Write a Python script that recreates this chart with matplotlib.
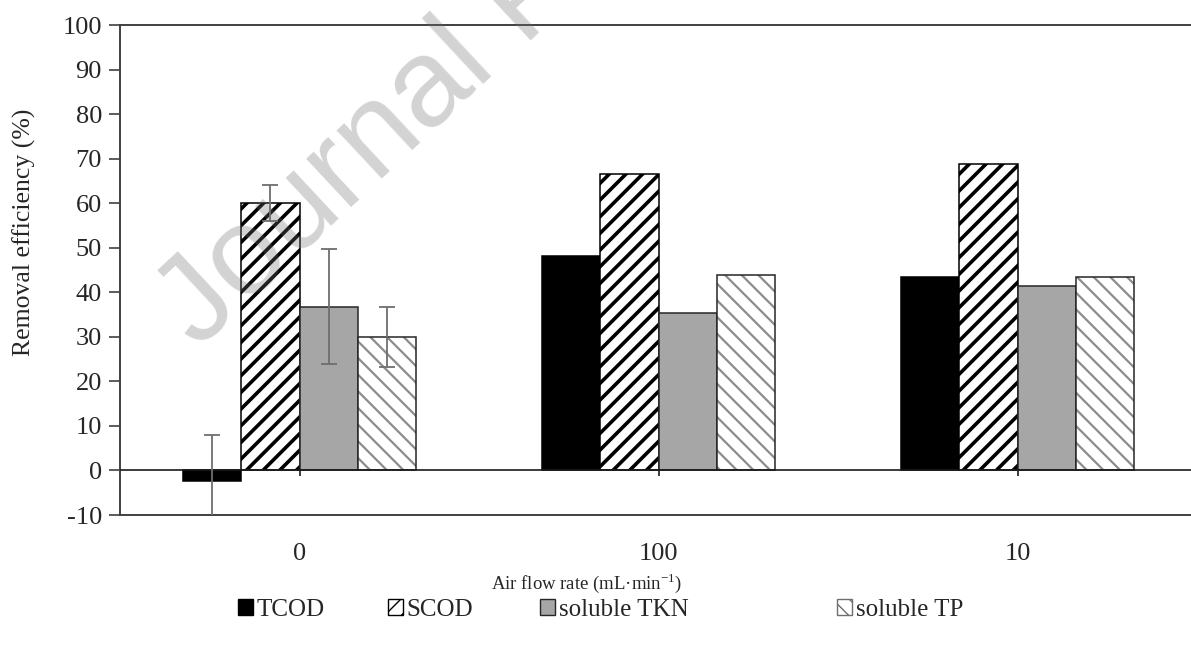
import numpy as np
import matplotlib
matplotlib.use("Agg")
import matplotlib.pyplot as plt
from matplotlib.patches import Patch

# data
flow_rates = ["0", "100", "10"]
series = ["TCOD", "SCOD", "soluble TKN", "soluble TP"]
tcod = [-2.3, 48.1, 43.4]
scod = [60.0, 66.5, 68.7]
tkn = [36.8, 35.4, 41.5]
tp = [30.0, 43.9, 43.4]
tcod_err = [10.3, 0, 0]
scod_err = [4.0, 0, 0]
tkn_err = [13.0, 0, 0]
tp_err = [6.7, 0, 0]
y_ticks = list(range(-10, 101, 10))

plt.rcParams['font.family'] = ['Liberation Serif', 'DejaVu Serif']

W, H = 1191, 645
fig = plt.figure(figsize=(W / 100, H / 100), dpi=100)
ax = fig.add_axes([120 / W, 1 - 515 / H, 1077 / W, 490 / H])

x = np.arange(len(flow_rates))
w = 0.1616
edge = '#262626'
txt = '#262626'
err_kw = dict(ecolor='#6e6e6e', elinewidth=1.3, capsize=6, capthick=1.3)


def bars(vals, errs, pos, **kw):
    hlw = kw.pop('hatch_lw', 1.0)
    with plt.rc_context({'hatch.linewidth': hlw}):
        b = ax.bar(x + pos * w, vals, w, **kw)
    for p in b:
        if hasattr(p, 'set_hatch_linewidth'):
            p.set_hatch_linewidth(hlw)
    if errs is not None:
        mask = np.array(errs) > 0
        ax.errorbar((x + pos * w)[mask], np.array(vals)[mask], yerr=np.array(errs)[mask],
                    fmt='none', zorder=5, **err_kw)
    return b


bars(tcod, tcod_err, -1.5, color='black', edgecolor='black', linewidth=1.1, zorder=3)
bars(scod, scod_err, -0.5, color='white', edgecolor='black', hatch='//', hatch_lw=2.6,
     linewidth=1.1, zorder=3)
bars(tkn, tkn_err, 0.5, color='#a6a6a6', edgecolor=edge, linewidth=1.1, zorder=3)
bars(tp, None, 1.5, color='white', edgecolor='#8c8c8c', hatch='\\\\', hatch_lw=1.6,
     linewidth=0, zorder=3)
bars(tp, tp_err, 1.5, fill=False, edgecolor=edge, linewidth=1.1, zorder=4)

# zero line with small category ticks
ax.axhline(0, color='#1a1a1a', lw=1.2, zorder=4)
ax.vlines(x, -1.2, 0, color='#1a1a1a', lw=1.2, zorder=4)

ax.set_xlim(-0.5, len(flow_rates) - 0.5)
ax.set_ylim(-10, 100)
ax.set_yticks(y_ticks)
ax.set_yticklabels([str(v) for v in y_ticks], fontsize=19, color=txt)
ax.set_xticks(x)
ax.set_xticklabels(flow_rates, fontsize=19, color=txt)
ax.tick_params(axis='x', length=0, pad=20)
ax.tick_params(axis='y', direction='out', length=8, width=1.2, color='#404040', pad=5)
for s in ['left', 'bottom', 'top']:
    ax.spines[s].set_color('#404040')
    ax.spines[s].set_linewidth(1.4)
ax.spines['right'].set_visible(False)

fig.text(24 / W, 1 - 232 / H, 'Removal efficiency (%)', rotation=90, ha='center',
         va='center', fontsize=18.5, color=txt)
fig.text(587 / W, 1 - 583 / H, 'Air flow rate (mL·min$^{\\mathregular{-1}}$)', ha='center',
         va='center', fontsize=13.5, color=txt)

handles = [
    Patch(facecolor='black', edgecolor='black', label='TCOD'),
    Patch(facecolor='white', edgecolor='black', hatch='//', label='SCOD'),
    Patch(facecolor='#a6a6a6', edgecolor=edge, label='soluble TKN'),
    Patch(facecolor='white', edgecolor='#6e6e6e', hatch='\\\\', label='soluble TP'),
]
for h, xs in zip(handles, [238, 388, 540, 837]):
    fig.legend(handles=[h], loc='center left', bbox_to_anchor=(xs / W, 1 - 610 / H),
               frameon=False, fontsize=18, handlelength=0.6, handleheight=0.6,
               handletextpad=0.15, borderpad=0, borderaxespad=0,
               labelcolor=txt)

# watermark
fig.text(198 / W, 1 - 350 / H, 'Journal Pre-proof', rotation=43, rotation_mode='anchor',
         ha='left', va='baseline', fontsize=90, family=['Liberation Sans', 'DejaVu Sans'],
         color='#6e6e6e', alpha=0.3, zorder=10)

fig.savefig('out.png', dpi=100)
